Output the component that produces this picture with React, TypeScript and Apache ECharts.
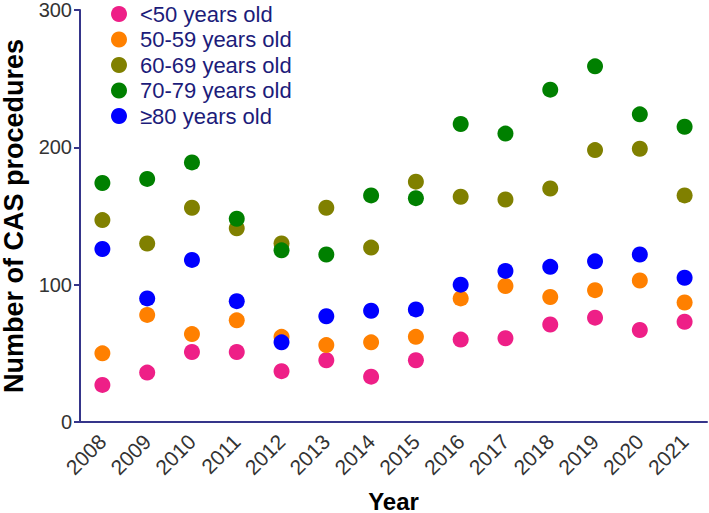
import React, { useEffect, useRef } from "react";
import * as echarts from "echarts";

const years = ["2008","2009","2010","2011","2012","2013","2014","2015","2016","2017","2018","2019","2020","2021"];
const seriesNames = ["<50 years old","50-59 years old","60-69 years old","70-79 years old","≥80 years old"];
const under50 = [27, 36, 51, 51, 37, 45, 33, 45, 60, 61, 71, 76, 67, 73];
const age50to59 = [50, 78, 64, 74, 62, 56, 58, 62, 90, 99, 91, 96, 103, 87];
const age60to69 = [147, 130, 156, 141, 130, 156, 127, 175, 164, 162, 170, 198, 199, 165];
const age70to79 = [174, 177, 189, 148, 125, 122, 165, 163, 217, 210, 242, 259, 224, 215];
const age80plus = [126, 90, 118, 88, 58, 77, 81, 82, 100, 110, 113, 117, 122, 105];
const yTicks = [0, 100, 200, 300];
const colors = ["#EE1F87", "#FF8000", "#808000", "#008000", "#0000FF"];

export default function App() {
  const ref = useRef<HTMLDivElement>(null);
  useEffect(() => {
    if (!ref.current) return;
    const chart = echarts.init(ref.current, null, { renderer: "svg" });
    const data = [under50, age50to59, age60to69, age70to79, age80plus];
    const axisColor = "#35358A";
    const font = "Liberation Sans, Arial, sans-serif";
    chart.setOption({
      animation: false,
      backgroundColor: "#ffffff",
      textStyle: { fontFamily: font },
      grid: { left: 80, right: 2, top: 10, bottom: 91, containLabel: false, outerBoundsMode: "none" },
      legend: {
        orient: "vertical",
        left: 106,
        top: -2,
        itemWidth: 16,
        itemHeight: 16,
        itemGap: 3.5,
        icon: "circle",
        data: seriesNames,
        textStyle: { color: "#1C1C7A", fontSize: 22, fontFamily: font, padding: [0, 0, 0, 8] },
      },
      xAxis: {
        type: "category",
        data: years,
        boundaryGap: true,
        name: "Year",
        nameLocation: "middle",
        nameGap: 67,
        nameTextStyle: { fontSize: 24, fontWeight: "bold", color: "#000", fontFamily: font },
        axisLine: { lineStyle: { color: axisColor, width: 2 } },
        axisTick: { alignWithLabel: true, length: 6, lineStyle: { color: axisColor, width: 2 } },
        axisLabel: { rotate: 45, fontSize: 21, color: "#333", margin: 16, interval: 0 },
        splitLine: { show: false },
      },
      yAxis: {
        type: "value",
        min: yTicks[0],
        max: yTicks[yTicks.length - 1],
        interval: 100,
        name: "Number of CAS procedures",
        nameLocation: "middle",
        nameGap: 46,
        nameTextStyle: { fontSize: 27, fontWeight: "bold", color: "#000", fontFamily: font },
        axisLine: { show: true, lineStyle: { color: axisColor, width: 2 } },
        axisTick: { show: true, length: 6, lineStyle: { color: axisColor, width: 2 } },
        axisLabel: { fontSize: 20, color: "#333", margin: 8 },
        splitLine: { show: false },
      },
      series: seriesNames.map((name, i) => ({
        name,
        type: "scatter",
        data: data[i],
        symbol: "circle",
        symbolSize: 16,
        itemStyle: { color: colors[i], opacity: 1 },
      })),
    });
    return () => chart.dispose();
  }, []);
  return <div ref={ref} style={{ width: 709, height: 513, position: "absolute", left: 0, top: 0 }} />;
}
